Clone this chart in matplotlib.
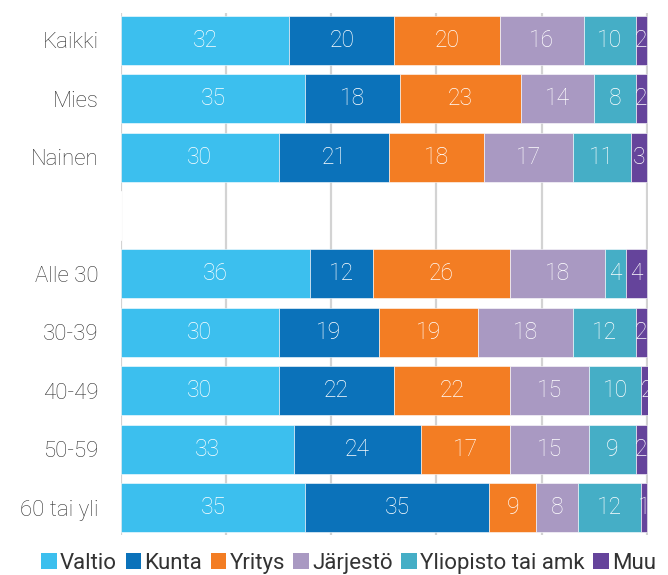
import numpy as np
import matplotlib
matplotlib.use("Agg")
import matplotlib.pyplot as plt
from matplotlib.patches import Patch

# ----------------------------------
# Data (percent shares per group)
# ----------------------------------
groups = ["Kaikki", "Mies", "Nainen", "", "Alle 30", "30-39", "40-49", "50-59", "60 tai yli"]
series = ["Valtio", "Kunta", "Yritys", "Järjestö", "Yliopisto tai amk", "Muu"]

valtio = [32, 35, 30, 0, 36, 30, 30, 33, 35]
kunta = [20, 18, 21, 0, 12, 19, 22, 24, 35]
yritys = [20, 23, 18, 0, 26, 19, 22, 17, 9]
jarjesto = [16, 14, 17, 0, 18, 18, 15, 15, 8]
yliopisto = [10, 8, 11, 0, 4, 12, 10, 9, 12]
muu = [2, 2, 3, 0, 4, 2, 2, 2, 1]

colors = ["#3CBFEE", "#0B72BA", "#F37D23", "#A999C2", "#45AEC6", "#65449B"]

# ----------------------------------
# Plot
# ----------------------------------
plt.rcParams["font.family"] = ["Roboto", "DejaVu Sans"]

fig = plt.figure(figsize=(6.68, 5.75), dpi=100)
ax = fig.add_axes([0.1811, 0.0696, 0.789, 0.908])

values = [valtio, kunta, yritys, jarjesto, yliopisto, muu]
y = np.arange(len(groups))
left = np.zeros(len(groups))

for name, vals, col in zip(series, values, colors):
    vals = np.array(vals, dtype=float)
    ax.barh(y, vals, left=left, height=0.84, color=col,
            edgecolor="white", linewidth=0.4, label=name, zorder=2)
    for yi, (l, v) in enumerate(zip(left, vals)):
        if v > 0:
            ax.text(l + v / 2, yi, f"{int(v)}", ha="center", va="center",
                    color="white", fontsize=16.5, fontweight="light",
                    zorder=3, clip_on=True)
    left += vals

ax.set_xlim(0, 100.25)
ax.set_ylim(8.47, -0.47)
ax.set_xticks([0, 20, 40, 60, 80, 100])
ax.set_xticklabels([])
ax.tick_params(axis="x", length=0)
ax.grid(axis="x", color="#D3D3D3", linewidth=1.6, zorder=0)
ax.set_axisbelow(True)

ax.set_yticks(y)
ax.set_yticklabels(groups, fontsize=16, color="#333333", fontweight="light")
ax.tick_params(axis="y", length=0, pad=16)

for s in ax.spines.values():
    s.set_visible(False)

handles = [Patch(facecolor=c, label=n) for n, c in zip(series, colors)]
fig.legend(handles=handles, loc="center", bbox_to_anchor=(0.522, 0.02),
           ncol=6, frameon=False, fontsize=16, handlelength=0.7,
           handleheight=0.7, handletextpad=0.15, columnspacing=0.38,
           labelcolor="#333333")

fig.savefig("out.png", dpi=100)
